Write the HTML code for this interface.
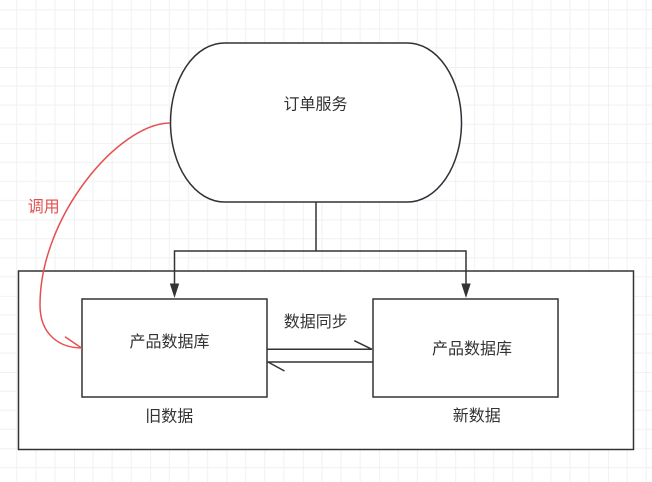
<!DOCTYPE html>
<html>
<head>
<meta charset="utf-8">
<style>
html,body{margin:0;padding:0;background:#fff;}
svg{display:block;}
text{font-family:"Liberation Sans","Noto Sans CJK SC",sans-serif;font-size:16px;fill:#333;}
</style>
</head>
<body>
<svg width="652" height="482" viewBox="0 0 652 482" xmlns="http://www.w3.org/2000/svg">
  <defs>
    <pattern id="grid" x="74" y="67" width="76.3" height="76.3" patternUnits="userSpaceOnUse">
      <g stroke="#f3f3f3" stroke-width="1.2" fill="none">
        <line x1="19.07" y1="0" x2="19.07" y2="76.3"/>
        <line x1="38.15" y1="0" x2="38.15" y2="76.3"/>
        <line x1="57.22" y1="0" x2="57.22" y2="76.3"/>
        <line x1="0" y1="19.07" x2="76.3" y2="19.07"/>
        <line x1="0" y1="38.15" x2="76.3" y2="38.15"/>
        <line x1="0" y1="57.22" x2="76.3" y2="57.22"/>
      </g>
      <g stroke="#e9e9e9" stroke-width="1.2" fill="none">
        <line x1="0" y1="0" x2="0" y2="76.3"/>
        <line x1="0" y1="0" x2="76.3" y2="0"/>
      </g>
    </pattern>
  </defs>
  <rect x="0" y="0" width="652" height="482" fill="#fff"/>
  <rect x="0" y="0" width="652" height="482" fill="url(#grid)"/>

  <!-- container -->
  <rect x="18.5" y="271" width="615" height="178.5" fill="#fff" stroke="#333" stroke-width="1.5"/>

  <!-- order service stadium -->
  <rect x="170.5" y="43" width="291" height="159" rx="54" ry="79.5" fill="#fff" stroke="#2e3238" stroke-width="1.5"/>
  <text x="315.5" y="105" text-anchor="middle" dominant-baseline="central">订单服务</text>

  <!-- connectors from service -->
  <g stroke="#333" stroke-width="1.5" fill="none">
    <polyline points="316,202 316,251"/>
    <polyline points="174.5,284 174.5,251 466,251 466,284"/>
  </g>
  <polygon points="174.5,298 169.8,283.5 179.2,283.5" fill="#333"/>
  <polygon points="466,298 461.3,283.5 470.7,283.5" fill="#333"/>

  <!-- boxes -->
  <rect x="82" y="299" width="185" height="98" fill="#fff" stroke="#333" stroke-width="1.5"/>
  <rect x="373" y="299" width="185" height="98" fill="#fff" stroke="#333" stroke-width="1.5"/>
  <text x="169.5" y="342.5" text-anchor="middle" dominant-baseline="central">产品数据库</text>
  <text x="472" y="349.5" text-anchor="middle" dominant-baseline="central">产品数据库</text>

  <!-- sync arrows -->
  <g stroke="#333" stroke-width="1.5" fill="none">
    <line x1="267" y1="349.3" x2="372" y2="349.3"/>
    <line x1="354.3" y1="340.7" x2="372" y2="349.3"/>
    <line x1="267" y1="362" x2="373" y2="362"/>
    <line x1="268" y1="362" x2="284.5" y2="371"/>
  </g>
  <text x="315.8" y="322.7" text-anchor="middle" dominant-baseline="central">数据同步</text>

  <text x="169.3" y="417" text-anchor="middle" dominant-baseline="central">旧数据</text>
  <text x="476.8" y="416.7" text-anchor="middle" dominant-baseline="central">新数据</text>

  <!-- red call curve -->
  <g stroke="#e64f4f" stroke-width="1.5" fill="none">
    <path d="M170,123 C120,123 40,215 40,305 C40,335 60,348 82,348"/>
    <line x1="65" y1="336.7" x2="81.5" y2="348"/>
  </g>
  <text x="43.8" y="207.7" text-anchor="middle" dominant-baseline="central" style="fill:#e64f4f">调用</text>
</svg>
</body>
</html>
